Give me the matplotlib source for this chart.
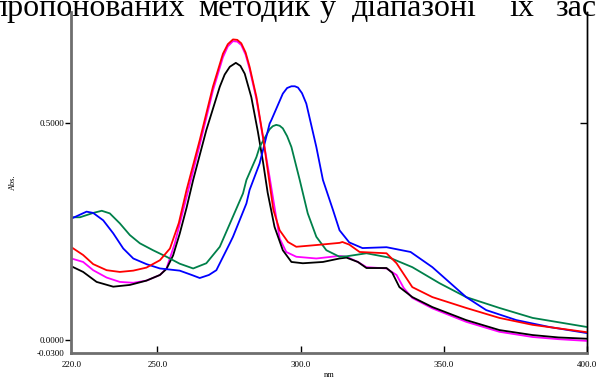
import matplotlib
matplotlib.use("Agg")
import matplotlib.pyplot as plt

# Absorption spectra (wavelength, nm -> absorbance)
black_wl = [220, 224.1, 228.8, 234.6, 240.4, 246.2, 250.9, 253.2, 255.5, 257.8, 260.2, 262.5,
            267.1, 271.8, 273.5, 275.3, 277.4, 279, 280.5, 282.8, 285.1, 286.9, 288.5, 290.9,
            293.8, 296.8, 300.8, 307.8, 313.6, 316, 320, 323, 326, 330, 332, 334.5, 339, 346,
            357.8, 369.4, 381, 390, 400]
black_abs = [0.170, 0.157, 0.134, 0.123, 0.127, 0.137, 0.150, 0.164, 0.195, 0.245, 0.305, 0.369,
             0.484, 0.584, 0.612, 0.630, 0.639, 0.632, 0.614, 0.560, 0.480, 0.410, 0.340, 0.261,
             0.207, 0.180, 0.177, 0.180, 0.188, 0.190, 0.180, 0.166, 0.166, 0.166, 0.155, 0.122,
             0.099, 0.076, 0.046, 0.023, 0.0115, 0.006, 0.003]

magenta_wl = [220, 224.1, 227.6, 232.3, 236.9, 241.6, 246.2, 250.9, 253.2, 256.1, 260.2, 264.8,
              269.4, 272.9, 274.6, 276.4, 277.9, 279.3, 280.8, 282.2, 284.6, 286.9, 289.2, 292.7,
              295.0, 298.5, 305.5, 313.6, 316, 320, 323, 330, 333.5, 336, 339, 346, 357.8,
              369.4, 381, 390, 400]
magenta_abs = [0.188, 0.180, 0.161, 0.144, 0.134, 0.132, 0.137, 0.150, 0.165, 0.223, 0.330, 0.450,
               0.575, 0.652, 0.677, 0.689, 0.688, 0.680, 0.658, 0.625, 0.555, 0.465, 0.375, 0.234,
               0.203, 0.192, 0.188, 0.194, 0.192, 0.180, 0.168, 0.165, 0.150, 0.120, 0.097, 0.073,
               0.042, 0.019, 0.007, 0.002, -0.002]

red_wl = [220, 224.1, 227.6, 232.3, 236.9, 241.6, 246.2, 250.9, 254.4, 257.5, 260.2, 264.8,
          269.4, 272.9, 274.6, 276.4, 277.9, 279.3, 280.8, 282.2, 284.6, 286.9, 289.2, 290.5,
          292.7, 295.6, 298.5, 305.5, 313.6, 314.6, 317, 320.6, 330, 333.5, 339, 346, 357.8,
          369.4, 381, 400]
red_abs = [0.214, 0.196, 0.175, 0.161, 0.157, 0.160, 0.167, 0.184, 0.211, 0.270, 0.346, 0.461,
           0.584, 0.660, 0.682, 0.693, 0.692, 0.684, 0.663, 0.630, 0.560, 0.468, 0.360, 0.300,
           0.253, 0.226, 0.215, 0.219, 0.224, 0.226, 0.220, 0.203, 0.200, 0.177, 0.122, 0.099,
           0.074, 0.051, 0.035, 0.018]

blue_wl = [220, 225.3, 227.6, 231.1, 234.6, 238.1, 241.6, 246.2, 250.9, 257.8, 262, 264.8,
           268, 270.6, 275.3, 276.4, 281.1, 282.2, 285.7, 289.2, 289.8, 293.8, 295.3, 296.8,
           298, 299.1, 300.5, 302.0, 305.5, 307.8, 311.3, 313.6, 317, 321.6, 330, 338.4, 346,
           353, 357.8, 364.8, 375.3, 386.9, 400]
blue_abs = [0.280, 0.296, 0.293, 0.276, 0.246, 0.211, 0.188, 0.175, 0.165, 0.160, 0.150, 0.143,
            0.150, 0.161, 0.223, 0.238, 0.315, 0.346, 0.407, 0.499, 0.507, 0.568, 0.581, 0.585,
            0.585, 0.582, 0.569, 0.545, 0.445, 0.369, 0.300, 0.253, 0.225, 0.212, 0.214, 0.203,
            0.168, 0.127, 0.099, 0.069, 0.046, 0.030, 0.016]

green_wl = [220, 223, 227.6, 230.6, 233.4, 236.9, 240.4, 243.9, 248.5, 253.2, 257.8, 262.5,
            267.1, 271.8, 275.3, 279.9, 281.1, 284.6, 285.7, 288.0, 289.2, 290.3, 291.5, 292.7,
            293.8, 295.3, 296.8, 299.7, 302.5, 305.5, 309, 313.6, 316, 323, 331, 339, 348.5,
            357.8, 369.4, 381, 400]
green_abs = [0.283, 0.283, 0.293, 0.298, 0.292, 0.269, 0.242, 0.223, 0.207, 0.192, 0.176, 0.165,
             0.177, 0.215, 0.268, 0.338, 0.369, 0.422, 0.445, 0.472, 0.486, 0.493, 0.496, 0.494,
             0.488, 0.470, 0.445, 0.369, 0.292, 0.238, 0.207, 0.192, 0.193, 0.200, 0.190, 0.168,
             0.131, 0.099, 0.074, 0.051, 0.030]

x_ticks = [220, 250, 300, 350, 400]
x_tick_labels = ["220.0", "250.0", "300.0", "350.0", "400.0"]
y_ticks = [-0.03, 0.0, 0.5]
y_tick_labels = ["-0.0300", "0.0000", "0.5000"]

# Words of the surrounding text line (justified, so placed word by word)
heading_words = ["пропонованих", "методик", "у", "діапазоні", "їх", "застосування"]
heading_x_px = [185, 198, 320, 352, 510, 555]
heading_align = ["right", "left", "left", "left", "left", "left"]

serif = "Liberation Serif"
plt.rcParams["font.family"] = [serif, "DejaVu Serif"]

W, H = 596, 378
fig = plt.figure(figsize=(W / 100, H / 100), dpi=100)
ax = fig.add_axes([0.1198, 0.066, 0.8652, 0.902])

lw = 1.3
ax.plot(magenta_wl, magenta_abs, color="#ff00ff", lw=lw)
ax.plot(black_wl, black_abs, color="black", lw=lw)
ax.plot(green_wl, green_abs, color="#00804a", lw=lw)
ax.plot(blue_wl, blue_abs, color="#0000ff", lw=lw)
ax.plot(red_wl, red_abs, color="#ff0000", lw=lw)

ax.set_xlim(220, 400)
ax.set_ylim(-0.03, 0.756)

ax.set_xticks(x_ticks)
ax.set_xticklabels(x_tick_labels)
ax.set_yticks(y_ticks)
ax.set_yticklabels(y_tick_labels)
ax.tick_params(axis="x", direction="in", length=5, width=1, colors="black",
               labelsize=6.5, pad=6)
ax.tick_params(axis="y", direction="out", length=4, width=1, colors="black",
               labelsize=6.5, pad=1)
ax.yaxis.get_major_ticks()[0].tick1line.set_visible(False)
ax.xaxis.get_major_ticks()[0].tick1line.set_visible(False)

for side in ("left", "bottom"):
    ax.spines[side].set_color("#6e6e6e")
    ax.spines[side].set_linewidth(2)
ax.spines["top"].set_visible(False)
ax.spines["right"].set_color("black")
ax.spines["right"].set_linewidth(1)

sec = ax.secondary_yaxis("right")
sec.set_yticks([0.5])
sec.set_yticklabels([])
sec.tick_params(direction="in", length=5, width=1, colors="black")
sec.spines["right"].set_linewidth(1)

ax.set_ylabel("Abs.", fontsize=6, labelpad=14)
ax.set_xlabel("nm", fontsize=6, labelpad=1)

for word, xp, ha in zip(heading_words, heading_x_px, heading_align):
    fig.text(xp / W, 1 - 16 / H, word, fontsize=23, ha=ha, va="baseline", family=serif)

fig.savefig("out.png", dpi=100)
